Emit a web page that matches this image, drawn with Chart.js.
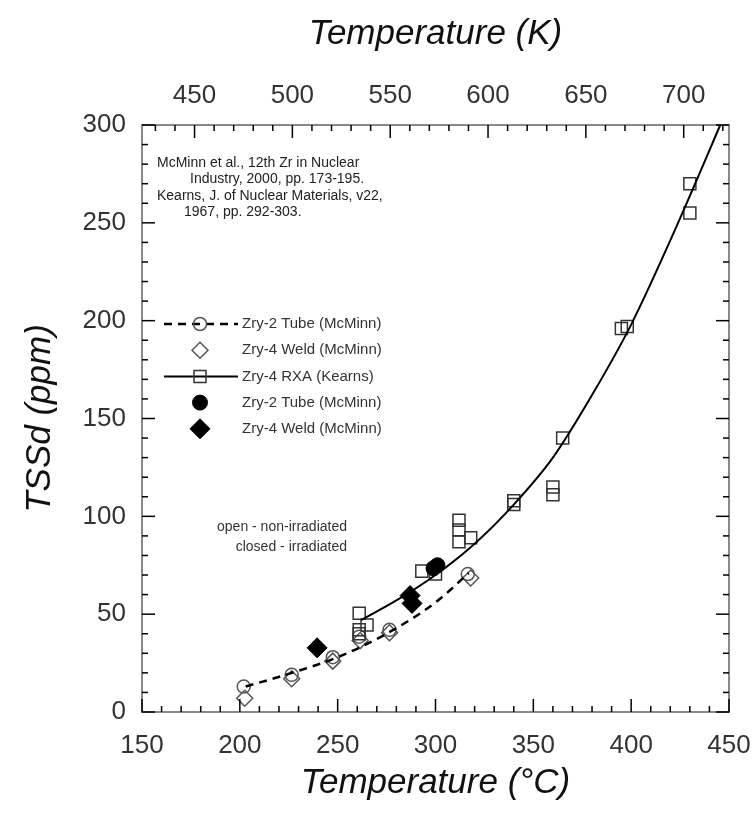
<!DOCTYPE html>
<html>
<head>
<meta charset="utf-8">
<script src="https://cdn.jsdelivr.net/npm/chart.js@4.4.1/dist/chart.umd.min.js"></script>
<style>
  html, body { margin: 0; padding: 0; background: #fff; }
  #wrap { width: 753px; height: 813px; }
</style>
</head>
<body>
<div id="wrap"><canvas id="tssd"></canvas></div>
<script>
// tick labels
var tempCTicks = [150, 200, 250, 300, 350, 400, 450];
var tempKTicks = [450, 500, 550, 600, 650, 700];
var ppmTicks = [0, 50, 100, 150, 200, 250, 300];
var minorStep = 10;

// Zry-2 Tube (McMinn), open = non-irradiated
var zry2OpenT = [202, 226.5, 247.5, 261, 276.5, 316.5];
var zry2OpenY = [13, 19, 28, 38.5, 42, 70.5];
// Zry-4 Weld (McMinn), open
var zry4OpenT = [202.5, 226.5, 247.5, 261.5, 276.5, 318];
var zry4OpenY = [7, 17, 26, 36.5, 40.5, 68.5];
// Zry-4 RXA (Kearns)
var rxaT = [261, 261, 265, 261, 293, 300, 312, 312, 312, 318, 340, 340, 360, 360, 365, 395, 398, 430, 430];
var rxaY = [50.5, 42, 44.5, 40, 72, 70.5, 98, 93, 87, 89, 108, 106, 115, 111, 140, 196, 197, 270, 255];
// closed = irradiated
var zry2ClosedT = [299, 301];
var zry2ClosedY = [73.5, 75];
var zry4ClosedT = [239.5, 287, 288];
var zry4ClosedY = [32.8, 59.5, 55.5];
// fit curves
var mcminnFitT = [203, 225, 250, 275, 300, 317];
var mcminnFitY = [13, 19.5, 28, 40, 56, 71];
var kearnsFitT = [262, 280, 300, 320, 340, 360, 380, 400, 420, 440, 445.5];
var kearnsFitY = [47, 57, 70, 86, 106, 130, 162, 198, 241, 287, 300];

function pts(xs, ys) {
  return xs.map(function (x, i) { return { x: x, y: ys[i] }; });
}

var tickFont = { family: 'Liberation Sans', size: 26 };
var titleFont = { family: 'Liberation Sans', size: 35, style: 'italic' };
var labelColor = '#333';
var axisColor = '#888';

var openCircle = { pointStyle: 'circle', pointRadius: 6.5, borderColor: '#555', backgroundColor: 'rgba(0,0,0,0)', borderWidth: 1.5 };
var openDiamond = { pointStyle: 'rectRot', pointRadius: 8, borderColor: '#555', backgroundColor: 'rgba(0,0,0,0)', borderWidth: 1.5 };
var openSquare = { pointStyle: 'rect', pointRadius: 8.5, borderColor: '#333', backgroundColor: 'rgba(0,0,0,0)', borderWidth: 1.5 };
var filledCircle = { pointStyle: 'circle', pointRadius: 7.5, borderColor: '#000', backgroundColor: '#000', borderWidth: 1 };
var filledDiamond = { pointStyle: 'rectRot', pointRadius: 10, borderColor: '#000', backgroundColor: '#000', borderWidth: 1 };

function markerSet(label, data, style, order) {
  return Object.assign({ label: label, data: data, showLine: false, order: order, pointHoverRadius: style.pointRadius }, style);
}

// inward ticks on all four sides
var innerTicks = {
  id: 'innerTicks',
  afterDraw: function (chart) {
    var ctx = chart.ctx, a = chart.chartArea, s = chart.scales;
    ctx.save();
    ctx.strokeStyle = '#000';
    ctx.lineWidth = 1.5;
    function tick(x1, y1, x2, y2) { ctx.beginPath(); ctx.moveTo(x1, y1); ctx.lineTo(x2, y2); ctx.stroke(); }
    var v, p, len;
    for (v = s.x.min; v <= s.x.max; v += minorStep) {
      p = s.x.getPixelForValue(v);
      len = tempCTicks.indexOf(v) >= 0 ? 13 : 6;
      tick(p, a.bottom, p, a.bottom - len);
    }
    for (v = 430; v <= 720; v += minorStep) {
      p = s.xK.getPixelForValue(v);
      len = tempKTicks.indexOf(v) >= 0 ? 13 : 6;
      tick(p, a.top, p, a.top + len);
    }
    for (v = s.y.min; v <= s.y.max; v += minorStep) {
      p = s.y.getPixelForValue(v);
      len = ppmTicks.indexOf(v) >= 0 ? 13 : 6;
      tick(a.left, p, a.left + len, p);
      tick(a.right, p, a.right - len, p);
    }
    ctx.restore();
  }
};

// reference note, legend and open/closed key
var notes = {
  id: 'notes',
  afterDraw: function (chart) {
    var ctx = chart.ctx, a = chart.chartArea;
    ctx.save();
    ctx.fillStyle = '#222';
    ctx.textBaseline = 'middle';
    ctx.font = '14px "Liberation Sans"';
    ctx.fillText('McMinn et al., 12th Zr in Nuclear', a.left + 15, a.top + 38);
    ctx.fillText('Industry, 2000, pp. 173-195.', a.left + 48, a.top + 54);
    ctx.fillText('Kearns, J. of Nuclear Materials, v22,', a.left + 15, a.top + 71);
    ctx.fillText('1967, pp. 292-303.', a.left + 42, a.top + 87);

    var rows = [
      { ds: 0, line: 5, dash: [8, 6] },
      { ds: 1 },
      { ds: 2, line: 6, dash: [] },
      { ds: 3 },
      { ds: 4 }
    ];
    var sx = a.left + 58;
    ctx.font = '15px "Liberation Sans"';
    rows.forEach(function (r, i) {
      var y = a.top + 199 + i * 26.2;
      var d = chart.data.datasets[r.ds];
      if (r.line !== undefined) {
        var l = chart.data.datasets[r.line];
        ctx.save();
        ctx.strokeStyle = l.borderColor;
        ctx.lineWidth = l.borderWidth;
        ctx.setLineDash(r.dash);
        ctx.beginPath();
        ctx.moveTo(a.left + 22, y);
        ctx.lineTo(a.left + 96, y);
        ctx.stroke();
        ctx.restore();
      }
      ctx.save();
      ctx.strokeStyle = d.borderColor;
      ctx.fillStyle = d.backgroundColor;
      ctx.lineWidth = d.borderWidth;
      Chart.helpers.drawPoint(ctx, { pointStyle: d.pointStyle, radius: d.pointRadius, borderWidth: d.borderWidth, rotation: 0 }, sx, y);
      ctx.restore();
      ctx.fillStyle = '#333';
      ctx.fillText(d.label, a.left + 100, y);
    });

    ctx.font = '14px "Liberation Sans"';
    ctx.textAlign = 'right';
    ctx.fillText('open - non-irradiated', a.left + 205, a.top + 402);
    ctx.fillText('closed - irradiated', a.left + 205, a.top + 422);
    ctx.restore();
  }
};

function fixedTicks(list) {
  return function (scale) {
    scale.ticks = list.map(function (v) { return { value: v }; });
  };
}

// fixed box sizes so the plot area matches the reference frame
function boxHeight(h) {
  return function (s) { s.height = h; s.paddingLeft = 0; s.paddingRight = 0; };
}
function boxWidth(w) {
  return function (s) { s.width = w; s.paddingTop = 0; s.paddingBottom = 0; };
}

new Chart(document.getElementById('tssd'), {
  type: 'scatter',
  data: {
    datasets: [
      markerSet('Zry-2 Tube (McMinn)', pts(zry2OpenT, zry2OpenY), openCircle, 3),
      markerSet('Zry-4 Weld (McMinn)', pts(zry4OpenT, zry4OpenY), openDiamond, 4),
      markerSet('Zry-4 RXA (Kearns)', pts(rxaT, rxaY), openSquare, 2),
      markerSet('Zry-2 Tube (McMinn)', pts(zry2ClosedT, zry2ClosedY), filledCircle, 1),
      markerSet('Zry-4 Weld (McMinn)', pts(zry4ClosedT, zry4ClosedY), filledDiamond, 1),
      {
        label: 'McMinn fit', data: pts(mcminnFitT, mcminnFitY), showLine: true,
        borderColor: '#000', borderWidth: 2.5, borderDash: [8, 6], pointRadius: 0,
        cubicInterpolationMode: 'monotone', order: 0
      },
      {
        label: 'Kearns fit', data: pts(kearnsFitT, kearnsFitY), showLine: true,
        borderColor: '#000', borderWidth: 2, pointRadius: 0,
        cubicInterpolationMode: 'monotone', order: 0
      }
    ]
  },
  options: {
    responsive: true,
    maintainAspectRatio: false,
    animation: false,
    layout: { padding: 0 },
    plugins: { legend: { display: false }, tooltip: { enabled: false } },
    scales: {
      x: {
        type: 'linear', position: 'bottom', min: 150, max: 450,
        afterBuildTicks: fixedTicks(tempCTicks),
        afterFit: boxHeight(101),
        grid: { display: false, drawTicks: false },
        border: { color: axisColor, width: 2 },
        ticks: { font: tickFont, color: labelColor, padding: 18, maxRotation: 0 },
        title: { display: true, text: 'Temperature (°C)', font: titleFont, color: '#111', padding: { top: 0, bottom: 9 } }
      },
      xK: {
        type: 'linear', position: 'top', min: 423.15, max: 723.15,
        afterBuildTicks: fixedTicks(tempKTicks),
        afterFit: boxHeight(125),
        grid: { display: false, drawTicks: false },
        border: { color: axisColor, width: 2 },
        ticks: { font: tickFont, color: labelColor, padding: 14, maxRotation: 0 },
        title: { display: true, text: 'Temperature (K)', font: titleFont, color: '#111', padding: { top: 13, bottom: 0 } }
      },
      y: {
        type: 'linear', position: 'left', min: 0, max: 300,
        afterBuildTicks: fixedTicks(ppmTicks),
        afterFit: boxWidth(142),
        grid: { display: false, drawTicks: false },
        border: { color: axisColor, width: 2 },
        ticks: { font: tickFont, color: labelColor, padding: 16 },
        title: { display: true, text: 'TSSd (ppm)', font: titleFont, color: '#111', padding: { top: 19, bottom: 0 } }
      },
      yR: {
        type: 'linear', position: 'right', min: 0, max: 300,
        afterFit: boxWidth(24),
        grid: { display: false, drawTicks: false },
        border: { color: axisColor, width: 2 },
        ticks: { display: false }
      }
    }
  },
  plugins: [innerTicks, notes]
});
</script>
</body>
</html>
